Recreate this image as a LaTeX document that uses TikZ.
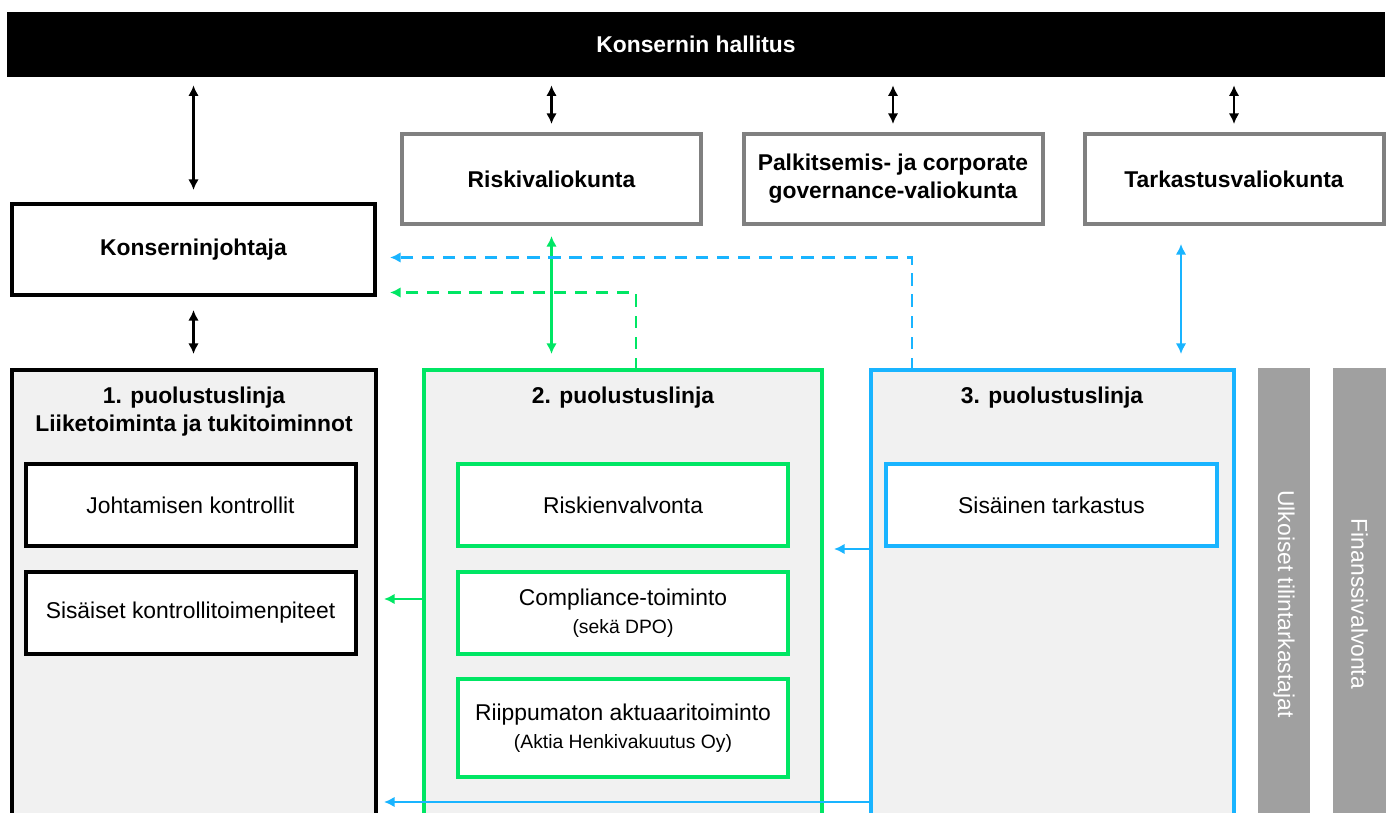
\documentclass[tikz,border=0pt]{standalone}
\usepackage{fontspec}
\setmainfont{Liberation Sans}
\usetikzlibrary{calc,arrows.meta}
\definecolor{lineGreen}{RGB}{0,230,100}
\definecolor{lineBlue}{RGB}{25,180,255}
\definecolor{boardGrey}{RGB}{128,128,128}
\definecolor{barGrey}{RGB}{160,160,160}
\definecolor{lineFill}{RGB}{241,241,241}
\newcommand\px{0.02cm}

\begin{document}
\begin{tikzpicture}[x=0.02cm,y=-0.02cm,font=\fontsize{13}{16}\selectfont,>={Latex[length=6pt,width=6pt]}]
% Box styles
\tikzstyle{plain box}=[draw,line width=0.08cm,inner sep=0,outer sep=0,align=center];
\tikzstyle{board box}=[plain box,draw=boardGrey,minimum width=299*\px,minimum height=90*\px];
\tikzstyle{line box}=[plain box,fill=lineFill,minimum height=470*\px];
\tikzstyle{inner box}=[plain box,fill=white,minimum width=330*\px,minimum height=82*\px];
\tikzstyle{side bar}=[fill=barGrey,text=white,inner sep=0,rotate=-90,minimum width=472*\px];
\tikzstyle{heading}=[font=\fontsize{13}{16}\selectfont\bfseries,align=center];
% Connector styles
\tikzstyle{link}=[line width=1.4pt];
\tikzstyle{dash link}=[link,dash pattern=on 7pt off 5pt];
\clip (0,0) rectangle (1392,813);
% Board and committees
\node(hallitus)[heading,fill=black,text=white,minimum width=1378*\px,minimum height=65*\px,inner sep=0]at(696,44.5){Konsernin hallitus};
\node(riski)[board box,heading]at(551.5,179){Riskivaliokunta};
\node(palkitsemis)[board box,heading]at(893,179){Palkitsemis- ja corporate\\governance-valiokunta};
\node(tarkastus)[board box,heading]at(1234,179){Tarkastusvaliokunta};
\node(johtaja)[plain box,heading,minimum width=363*\px,minimum height=91*\px]at(193.5,249.5){Konserninjohtaja};
% Lines of defence
\node(l1)[line box,minimum width=364*\px]at(194,605){};
\node(l2)[line box,draw=lineGreen,minimum width=398*\px]at(623,605){};
\node(l3)[line box,draw=lineBlue,minimum width=363*\px]at(1052.5,605){};
\node(h1)[heading]at(194,412){1. puolustuslinja\\Liiketoiminta ja tukitoiminnot};
\node(h2)[heading]at(623,398){2. puolustuslinja};
\node(h3)[heading]at(1052,398){3. puolustuslinja};
\node(johtamisen)[inner box]at(190.5,505){Johtamisen kontrollit};
\node(sisaiset)[inner box]at(190.5,613){Sisäiset kontrollitoimenpiteet};
\node(valvonta)[inner box,draw=lineGreen]at(623,505){Riskienvalvonta};
\node(compliance)[inner box,draw=lineGreen]at(623,613){Compliance-toiminto\\{\fontsize{11}{14}\selectfont(sekä DPO)}};
\node(aktuaari)[inner box,draw=lineGreen,minimum height=98*\px]at(623,728){Riippumaton aktuaaritoiminto\\{\fontsize{11}{14}\selectfont(Aktia Henkivakuutus Oy)}};
\node(tarkastustoimi)[inner box,draw=lineBlue,minimum width=331*\px]at(1051.5,505){Sisäinen tarkastus};
% External bodies
\node(tilintarkastajat)[side bar,minimum height=52*\px]at(1284,604){Ulkoiset tilintarkastajat};
\node(fiva)[side bar,minimum height=53*\px]at(1359.5,604){Finanssivalvonta};
% Reporting lines
\draw[link,<->]($(hallitus.south -| johtaja)+(0,8)$)--($(johtaja.north)+(0,-14)$);
\draw[link,<->]($(hallitus.south -| riski)+(0,8)$)--($(riski.north)+(0,-10)$);
\draw[link,<->]($(hallitus.south -| palkitsemis)+(0,8)$)--($(palkitsemis.north)+(0,-10)$);
\draw[link,<->]($(hallitus.south -| tarkastus)+(0,8)$)--($(tarkastus.north)+(0,-10)$);
\draw[link,<->]($(johtaja.south)+(0,15)$)--($(l1.north -| johtaja)+(0,-16)$);
\draw[link,lineGreen,<->]($(riski.south)+(0,12)$)--($(riski.south |- l2.north)+(0,-16)$);
\draw[link,lineBlue,<->]($(tarkastus.south)+(-53,20)$)--($(tarkastus.south |- l3.north)+(-53,-16)$);
\draw[dash link,lineBlue,->]($(l3.north west)+(41,0)$)|-($(johtaja.east)+(15,8)$);
\draw[dash link,lineGreen,->]($(l2.north west)+(212,0)$)|-($(johtaja.east)+(15,43)$);
\draw[link,lineGreen,->]($(l2.north west)+(0,229)$)--($(l1.north east)+(8,229)$);
\draw[link,lineBlue,->]($(l3.north west)+(0,179)$)--($(l2.north east)+(12,179)$);
\draw[link,lineBlue,->]($(l3.north west)+(0,432)$)--($(l1.north east)+(8,432)$);
\end{tikzpicture}
\end{document}
